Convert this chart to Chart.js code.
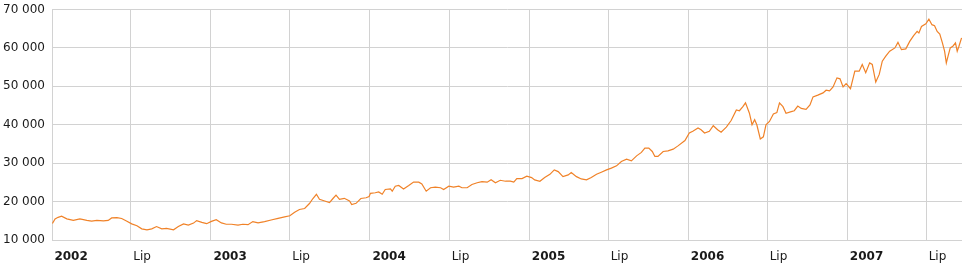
<!DOCTYPE html>
<html>
<head>
<meta charset="utf-8">
<script src="https://cdn.jsdelivr.net/npm/chart.js@4.4.1/dist/chart.umd.min.js"></script>
<style>
  html, body { margin: 0; padding: 0; background: #fff; }
  #wrap { width: 962px; height: 268px; position: relative; }
</style>
</head>
<body>
<div id="wrap"><canvas id="myChart"></canvas></div>
<script>
// index values
var dates = [
  '2002-01-02','2002-01-08','2002-01-15','2002-01-23','2002-02-04','2002-02-19','2002-03-06','2002-03-22',
  '2002-04-02','2002-04-14','2002-04-29','2002-05-10','2002-05-18','2002-05-30','2002-06-10','2002-06-22',
  '2002-07-03','2002-07-15','2002-07-26','2002-08-07','2002-08-18','2002-08-29','2002-09-10','2002-09-21',
  '2002-10-07','2002-10-18','2002-10-30','2002-11-10','2002-11-22','2002-11-29','2002-12-11','2002-12-22',
  '2003-01-02','2003-01-13','2003-01-25','2003-02-05','2003-02-17','2003-03-04','2003-03-15','2003-03-27',
  '2003-04-07','2003-04-19','2003-05-04','2003-05-19','2003-06-04','2003-06-19','2003-07-01','2003-07-12',
  '2003-07-23','2003-08-04','2003-08-15','2003-08-23','2003-08-31','2003-09-07','2003-09-19','2003-09-30',
  '2003-10-08','2003-10-15','2003-10-23','2003-11-03','2003-11-15','2003-11-20','2003-11-30','2003-12-11',
  '2003-12-23','2003-12-30',
  '2004-01-02','2004-01-13','2004-01-21','2004-01-29','2004-02-05','2004-02-17','2004-02-21','2004-02-28',
  '2004-03-07','2004-03-18','2004-03-30','2004-04-10','2004-04-22','2004-04-29','2004-05-09','2004-05-19',
  '2004-05-30','2004-06-11','2004-06-18','2004-06-30','2004-07-11','2004-07-23','2004-07-30','2004-08-11',
  '2004-08-22','2004-09-03','2004-09-14','2004-09-26','2004-10-05','2004-10-15','2004-10-26','2004-11-07',
  '2004-11-18','2004-11-26','2004-12-03','2004-12-15','2004-12-26',
  '2005-01-06','2005-01-13','2005-01-25','2005-02-05','2005-02-17','2005-02-27','2005-03-08','2005-03-19',
  '2005-03-31','2005-04-07','2005-04-19','2005-04-30','2005-05-12','2005-05-23','2005-06-04','2005-06-15',
  '2005-06-27','2005-07-08','2005-07-20','2005-07-31','2005-08-12','2005-08-23','2005-09-04','2005-09-15',
  '2005-09-23','2005-10-02','2005-10-10','2005-10-16','2005-10-23','2005-11-04','2005-11-15','2005-11-27',
  '2005-12-08','2005-12-24',
  '2006-01-03','2006-01-11','2006-01-23','2006-01-30','2006-02-07','2006-02-18','2006-02-27','2006-03-09',
  '2006-03-17','2006-03-29','2006-04-09','2006-04-21','2006-04-28','2006-05-06','2006-05-12','2006-05-21',
  '2006-05-27','2006-06-02','2006-06-07','2006-06-15','2006-06-22','2006-06-28','2006-07-06','2006-07-15',
  '2006-07-23','2006-07-29','2006-08-06','2006-08-13','2006-08-25','2006-09-01','2006-09-09','2006-09-17',
  '2006-09-28','2006-10-07','2006-10-14','2006-10-25','2006-11-06','2006-11-13','2006-11-21','2006-11-29',
  '2006-12-08','2006-12-15','2006-12-22','2006-12-29',
  '2007-01-08','2007-01-18','2007-01-28','2007-02-04','2007-02-12','2007-02-21','2007-02-27','2007-03-07',
  '2007-03-15','2007-03-22','2007-03-30','2007-04-08','2007-04-20','2007-04-27','2007-05-05','2007-05-15',
  '2007-05-24','2007-06-02','2007-06-10','2007-06-14','2007-06-20','2007-06-30','2007-07-07','2007-07-14',
  '2007-07-20','2007-07-26','2007-08-01','2007-08-07','2007-08-12','2007-08-16','2007-08-20','2007-08-25',
  '2007-08-31','2007-09-06','2007-09-10','2007-09-14','2007-09-20'
];
var values = [
  14300,15500,15900,16200,15500,15100,15500,15100,
  14900,15100,15000,15100,15750,15800,15600,14900,
  14200,13700,12900,12650,12900,13500,12900,13000,
  12650,13500,14200,13900,14400,15050,14600,14250,
  14850,15300,14450,14100,14100,13850,14100,14000,
  14800,14450,14800,15200,15650,16000,16300,17200,
  17950,18200,19500,20800,21900,20600,20150,19750,
  20800,21700,20600,20850,20150,19200,19550,20800,
  21000,21300,
  22150,22300,22500,21900,23150,23300,22700,24000,
  24200,23300,24200,25100,25050,24600,22700,23600,
  23750,23600,23150,24000,23750,24000,23600,23600,
  24450,24900,25200,25050,25700,24900,25550,25300,
  25300,25050,26000,26000,26600,
  26250,25650,25300,26250,27100,28250,27800,26500,
  26950,27550,26500,25900,25650,26250,27100,27650,
  28250,28700,29300,30450,31050,30600,31900,32800,
  33900,33900,33050,31750,31750,33050,33200,33650,
  34500,35900,
  37850,38300,39150,38700,37850,38300,39750,38700,
  38050,39400,41100,43850,43650,44700,45700,43000,
  40000,41300,40000,36300,36850,40000,40850,42800,
  43150,45700,44700,43000,43400,43650,44850,44250,
  44000,45150,47250,47700,48300,49000,48800,49850,
  52200,51950,49850,50700,
  49400,53950,53950,55700,53550,56100,55700,51100,
  53100,56550,57850,59150,60000,61450,59550,59750,
  61700,63200,64300,63900,65600,66300,67500,66050,
  65800,64300,63600,61300,59150,56100,57850,60000,
  60450,61300,59150,60450,62600
];

var tickDates = ['2002-01-01','2002-07-01','2003-01-01','2003-07-01','2004-01-01','2004-07-01',
                 '2005-01-01','2005-07-01','2006-01-01','2006-07-01','2007-01-01','2007-07-01'];
var tickLabels = ['2002','Lip','2003','Lip','2004','Lip','2005','Lip','2006','Lip','2007','Lip'];
var yTicks = [10000, 20000, 30000, 40000, 50000, 60000, 70000];
var startDate = '2002-01-01';
var endDate = '2007-09-21';

// days since start, so a plain linear axis can be used
function dayNum(s) {
    var p = s.split('-');
    var t = Date.UTC(+p[0], +p[1] - 1, +p[2]);
    var p0 = startDate.split('-');
    return (t - Date.UTC(+p0[0], +p0[1] - 1, +p0[2])) / 86400000;
}

function fmt(v) {
    return String(v).replace(/\B(?=(\d{3})+(?!\d))/g, ' ');
}

var points = [];
for (var i = 0; i < dates.length; i++) {
    points.push({x: dayNum(dates[i]), y: values[i]});
}
var tickDays = tickDates.map(dayNum);

var gridColor = '#d2d2d2';
var textColor = '#1a1a1a';
var fontFamily = '"DejaVu Sans", Verdana, sans-serif';

const ctx = document.getElementById('myChart');
const chart = new Chart(ctx, {
    type: 'line',
    data: {
        datasets: [{
            data: points,
            borderColor: '#f08228',
            borderWidth: 1.2,
            pointRadius: 0,
            tension: 0,
            fill: false
        }]
    },
    options: {
        responsive: true,
        maintainAspectRatio: false,
        animation: false,
        layout: {
            padding: {left: 3, top: 0, right: 0, bottom: 0}
        },
        plugins: {
            legend: { display: false },
            tooltip: { enabled: false }
        },
        scales: {
            x: {
                type: 'linear',
                min: 0,
                max: dayNum(endDate),
                afterBuildTicks: function(scale) {
                    scale.ticks = tickDays.map(function(v) { return {value: v}; });
                },
                afterFit: function(scale) { scale.height = 28; },
                grid: { color: gridColor, drawTicks: false },
                border: { color: gridColor },
                ticks: {
                    autoSkip: false,
                    maxRotation: 0,
                    align: 'start',
                    padding: 10,
                    color: textColor,
                    font: function(c) {
                        return {family: fontFamily, size: 12, weight: (c.index % 2 == 0) ? 'bold' : 'normal'};
                    },
                    callback: function(v, i) {
                        return '\u2009' + tickLabels[i];
                    }
                }
            },
            y: {
                min: yTicks[0],
                max: yTicks[yTicks.length - 1],
                afterBuildTicks: function(scale) {
                    scale.ticks = yTicks.map(function(v) { return {value: v}; });
                },
                afterFit: function(scale) {
                    scale.width = 49;
                    scale.paddingTop = 9.5;
                },
                grid: { color: gridColor, drawTicks: false },
                border: { color: gridColor },
                ticks: {
                    padding: 7,
                    color: textColor,
                    font: {family: fontFamily, size: 12},
                    callback: function(v) { return fmt(v); }
                }
            }
        }
    }
});
</script>
</body>
</html>
